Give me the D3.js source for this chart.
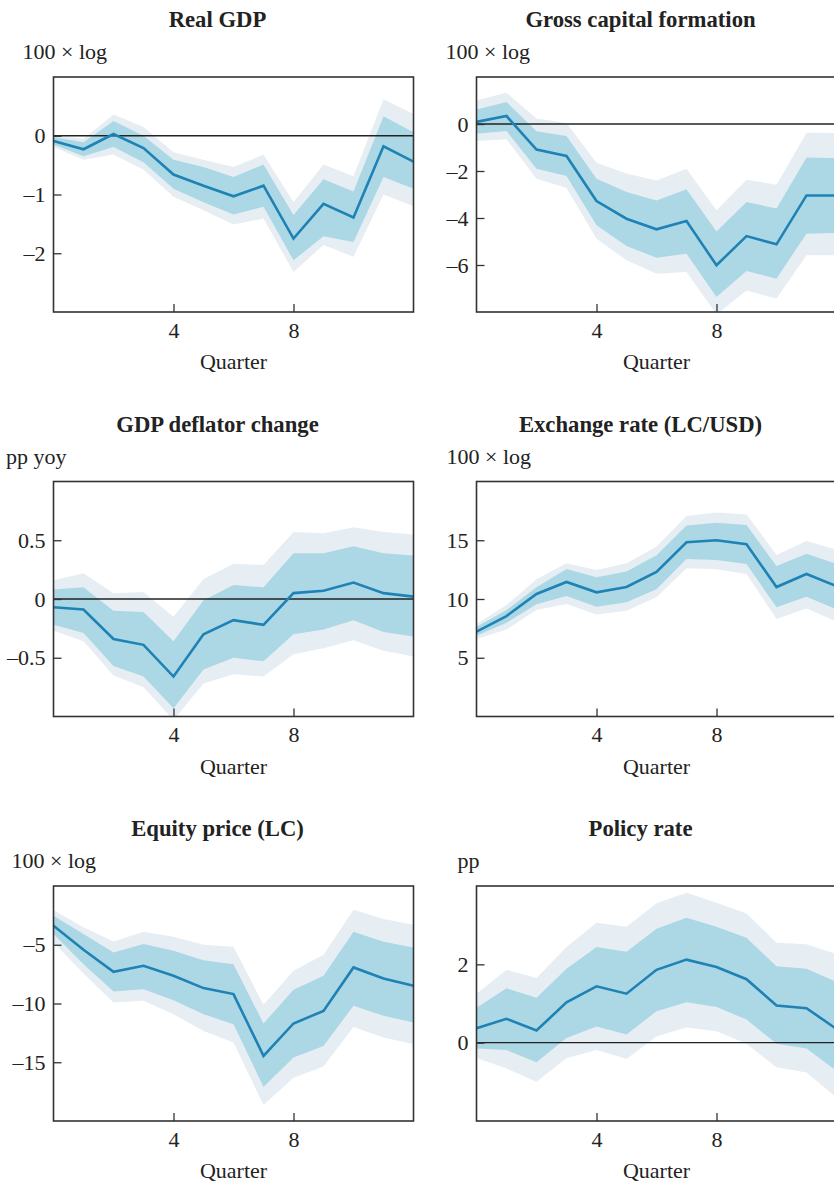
<!DOCTYPE html>
<html>
<head>
<meta charset="utf-8">
<script src="https://cdn.jsdelivr.net/npm/d3@7"></script>
<style>
  body { margin: 0; background: #fff; }
  svg { display: block; font-family: "Liberation Serif", "Times New Roman", serif; }
  .title { font-weight: bold; font-size: 22.7px; fill: #222; }
  .unit, .xlabel { font-size: 22px; fill: #222; }
  .axis text { font-size: 22px; fill: #222; font-family: "Liberation Serif", serif; }
  .axis line { stroke: #333; stroke-width: 1.3; }
</style>
</head>
<body>
<script>
// Quarters on the horizontal axis
const quarters = [0, 1, 2, 3, 4, 5, 6, 7, 8, 9, 10, 11, 12];

// Real GDP
const gdpMid  = [-0.09, -0.23, 0.03, -0.21, -0.66, -0.85, -1.03, -0.85, -1.75, -1.16, -1.39, -0.18, -0.44];
const gdpHi68 = [-0.02, -0.11, 0.25, 0.00, -0.41, -0.53, -0.70, -0.49, -1.35, -0.74, -0.95, 0.33, 0.06];
const gdpLo68 = [-0.15, -0.35, -0.19, -0.45, -0.90, -1.13, -1.34, -1.21, -2.12, -1.71, -1.81, -0.70, -0.90];
const gdpHi90 = [0.01, -0.05, 0.36, 0.15, -0.28, -0.41, -0.53, -0.32, -1.13, -0.49, -0.69, 0.62, 0.37];
const gdpLo90 = [-0.19, -0.41, -0.32, -0.58, -1.04, -1.27, -1.51, -1.41, -2.32, -1.86, -2.06, -1.00, -1.20];

// Gross capital formation
const gcfMid  = [0.09, 0.34, -1.09, -1.36, -3.28, -4.03, -4.48, -4.13, -6.01, -4.77, -5.12, -3.04, -3.04];
const gcfHi68 = [0.62, 0.94, -0.31, -0.51, -2.33, -2.89, -3.25, -2.78, -4.57, -3.32, -3.60, -1.43, -1.45];
const gcfLo68 = [-0.41, -0.30, -1.90, -2.21, -4.31, -5.19, -5.69, -5.52, -7.36, -6.26, -6.58, -4.67, -4.64];
const gcfHi90 = [1.01, 1.33, 0.23, 0.04, -1.65, -2.11, -2.40, -1.90, -3.67, -2.37, -2.58, -0.37, -0.38];
const gcfLo90 = [-0.72, -0.65, -2.33, -2.72, -4.88, -5.80, -6.37, -6.30, -8.10, -7.08, -7.43, -5.59, -5.59];

// GDP deflator change
const defMid  = [-0.07, -0.09, -0.34, -0.39, -0.66, -0.30, -0.18, -0.22, 0.05, 0.07, 0.14, 0.05, 0.02];
const defHi68 = [0.08, 0.10, -0.10, -0.11, -0.36, -0.01, 0.12, 0.10, 0.39, 0.39, 0.45, 0.39, 0.37];
const defLo68 = [-0.22, -0.29, -0.57, -0.66, -0.93, -0.60, -0.50, -0.53, -0.30, -0.26, -0.18, -0.28, -0.32];
const defHi90 = [0.16, 0.22, 0.05, 0.06, -0.15, 0.17, 0.30, 0.29, 0.57, 0.56, 0.61, 0.57, 0.55];
const defLo90 = [-0.27, -0.36, -0.65, -0.75, -1.03, -0.72, -0.64, -0.66, -0.47, -0.42, -0.35, -0.44, -0.49];

// Exchange rate (LC/USD)
const fxMid  = [7.22, 8.55, 10.43, 11.45, 10.57, 11.02, 12.30, 14.83, 15.00, 14.66, 11.02, 12.13, 11.10];
const fxHi68 = [7.64, 9.06, 10.99, 12.56, 11.85, 12.33, 13.72, 16.25, 16.50, 16.30, 12.81, 13.86, 12.98];
const fxLo68 = [6.88, 7.98, 9.55, 10.26, 9.35, 9.72, 10.82, 13.41, 13.32, 12.98, 9.29, 10.20, 9.12];
const fxHi90 = [7.87, 9.49, 11.68, 13.04, 12.47, 13.04, 14.46, 17.07, 17.36, 17.20, 13.75, 14.94, 14.20];
const fxLo90 = [6.59, 7.41, 9.06, 9.57, 8.69, 9.00, 10.14, 12.61, 12.53, 12.13, 8.30, 9.20, 8.07];

// Equity price (LC)
const eqMid  = [-3.38, -5.43, -7.30, -6.79, -7.64, -8.69, -9.20, -14.46, -11.70, -10.63, -6.93, -7.87, -8.49];
const eqHi68 = [-2.53, -4.09, -5.65, -4.94, -5.51, -6.31, -6.65, -11.70, -8.84, -7.64, -3.89, -4.74, -5.23];
const eqLo68 = [-4.09, -6.65, -8.98, -8.78, -9.72, -10.91, -11.76, -17.10, -14.60, -13.61, -10.20, -11.05, -11.62];
const eqHi90 = [-2.05, -3.52, -4.72, -3.89, -4.32, -5.00, -5.17, -10.11, -7.22, -5.85, -2.02, -2.81, -3.30];
const eqLo90 = [-4.80, -7.44, -9.91, -9.77, -10.91, -12.33, -13.32, -18.64, -16.31, -15.37, -11.99, -12.90, -13.47];

// Policy rate
const prMid  = [0.37, 0.61, 0.31, 1.03, 1.44, 1.25, 1.86, 2.12, 1.93, 1.62, 0.95, 0.88, 0.35];
const prHi68 = [0.89, 1.39, 1.15, 1.89, 2.44, 2.32, 2.91, 3.19, 2.96, 2.68, 1.95, 1.89, 1.55];
const prLo68 = [-0.15, -0.19, -0.50, 0.12, 0.41, 0.21, 0.80, 1.03, 0.91, 0.59, -0.03, -0.15, -0.72];
const prHi90 = [1.25, 1.86, 1.65, 2.44, 3.06, 2.96, 3.56, 3.83, 3.57, 3.30, 2.55, 2.51, 2.26];
const prLo90 = [-0.39, -0.66, -1.00, -0.40, -0.19, -0.42, 0.16, 0.39, 0.29, -0.03, -0.63, -0.76, -1.40];

// Panel titles, units and tick labels
const titles = ["Real GDP", "Gross capital formation", "GDP deflator change",
                "Exchange rate (LC/USD)", "Equity price (LC)", "Policy rate"];
const units = ["100 × log", "100 × log", "pp yoy", "100 × log", "100 × log", "pp"];
const yDomains = [[-3, 1], [-8, 2], [-1, 1], [0, 20], [-20, 0], [-2, 4]];
const yTicks = [[0, -1, -2], [0, -2, -4, -6], [0.5, 0, -0.5], [5, 10, 15], [-5, -10, -15], [0, 2]];
const xTicks = [4, 8];

const panels = [
  { mid: gdpMid, hi68: gdpHi68, lo68: gdpLo68, hi90: gdpHi90, lo90: gdpLo90 },
  { mid: gcfMid, hi68: gcfHi68, lo68: gcfLo68, hi90: gcfHi90, lo90: gcfLo90 },
  { mid: defMid, hi68: defHi68, lo68: defLo68, hi90: defHi90, lo90: defLo90 },
  { mid: fxMid,  hi68: fxHi68,  lo68: fxLo68,  hi90: fxHi90,  lo90: fxLo90 },
  { mid: eqMid,  hi68: eqHi68,  lo68: eqLo68,  hi90: eqHi90,  lo90: eqLo90 },
  { mid: prMid,  hi68: prHi68,  lo68: prLo68,  hi90: prHi90,  lo90: prLo90 }
];

// Layout
let svgWidth = 834;
let svgHeight = 1182;
let colLeft = [53.5, 476.5];
let rowTop = [77, 481.5, 886];
let plotWidth = 360;
let plotHeight = 235;

let svg = d3.select("body")
    .append("svg")
    .attr("width", svgWidth)
    .attr("height", svgHeight);

// minus sign shown as en dash, like the original
let fmt = d => d < 0 ? "\u2013" + Math.abs(d) : String(d);

panels.forEach(function(p, i) {
    let left = colLeft[i % 2];
    let top = rowTop[Math.floor(i / 2)];

    let g = svg.append("g")
        .attr("transform", `translate(${left}, ${top})`);

    let xScale = d3.scaleLinear()
        .domain([0, 12])
        .range([0, plotWidth]);

    let yScale = d3.scaleLinear()
        .domain(yDomains[i])
        .range([plotHeight, 0]);

    // clip bands to the frame
    g.append("clipPath")
        .attr("id", "clip" + i)
        .append("rect")
        .attr("width", plotWidth)
        .attr("height", plotHeight);

    let plot = g.append("g").attr("clip-path", `url(#clip${i})`);

    let band = (lo, hi) => d3.area()
        .x((d, j) => xScale(quarters[j]))
        .y0((d, j) => yScale(lo[j]))
        .y1((d, j) => yScale(hi[j]));

    plot.append("path")
        .attr("d", band(p.lo90, p.hi90)(quarters))
        .attr("fill", "#e7eef3");

    plot.append("path")
        .attr("d", band(p.lo68, p.hi68)(quarters))
        .attr("fill", "#acd8e6");

    // zero line
    let dom = yDomains[i];
    if (dom[0] < 0 && dom[1] > 0) {
        plot.append("line")
            .attr("x1", 0)
            .attr("x2", plotWidth)
            .attr("y1", yScale(0))
            .attr("y2", yScale(0))
            .attr("stroke", "#222")
            .attr("stroke-width", 1.4);
    }

    let line = d3.line()
        .x((d, j) => xScale(quarters[j]))
        .y((d, j) => yScale(p.mid[j]));

    plot.append("path")
        .attr("d", line(quarters))
        .attr("fill", "none")
        .attr("stroke", "#1f82b5")
        .attr("stroke-width", 2.6)
        .attr("stroke-linejoin", "miter");

    // axes with inward ticks
    let yAxis = g.append("g")
        .classed("axis", true)
        .call(d3.axisLeft(yScale)
            .tickValues(yTicks[i])
            .tickFormat(fmt)
            .tickSize(-8)
            .tickSizeOuter(0)
            .tickPadding(8));
    yAxis.select(".domain").remove();

    let xAxis = g.append("g")
        .classed("axis", true)
        .attr("transform", `translate(0, ${plotHeight})`)
        .call(d3.axisBottom(xScale)
            .tickValues(xTicks)
            .tickSize(-8)
            .tickSizeOuter(0)
            .tickPadding(10));
    xAxis.select(".domain").remove();

    // frame
    g.append("rect")
        .attr("width", plotWidth)
        .attr("height", plotHeight)
        .attr("fill", "none")
        .attr("stroke", "#333")
        .attr("stroke-width", 1.6);

    // title
    g.append("text")
        .attr("class", "title")
        .attr("x", 164)
        .attr("y", -50)
        .attr("text-anchor", "middle")
        .text(titles[i]);

    // unit label, left-aligned with the widest tick label
    let minX = d3.min(yAxis.selectAll("text").nodes(), n => n.getBBox().x);
    g.append("text")
        .attr("class", "unit")
        .attr("x", minX)
        .attr("y", -18)
        .text(units[i]);

    // x axis label
    g.append("text")
        .attr("class", "xlabel")
        .attr("x", plotWidth / 2)
        .attr("y", plotHeight + 57)
        .attr("text-anchor", "middle")
        .text("Quarter");
});
</script>
</body>
</html>
